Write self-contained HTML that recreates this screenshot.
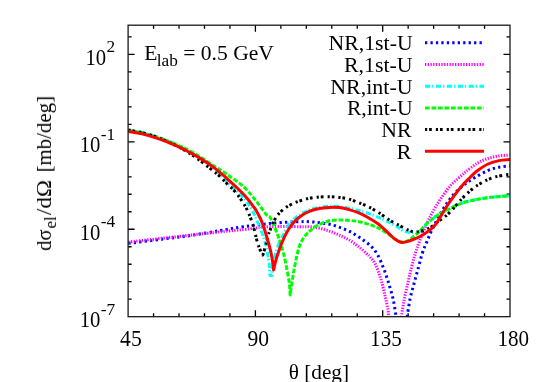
<!DOCTYPE html>
<html><head><meta charset="utf-8"><style>
html,body{margin:0;padding:0;background:#fff;}
svg{display:block;font-family:"Liberation Serif",serif;}
</style></head><body>
<svg width="545" height="382" viewBox="0 0 545 382">
<rect width="545" height="382" fill="#fff"/>
<defs><clipPath id="cp"><rect x="128.1" y="25.2" width="381.9" height="291.5"/></clipPath></defs>
<g stroke="#000" stroke-width="1.3" fill="none">
<path d="M153.56,316.70 v-3.5 M153.56,25.20 v3.5"/>
<path d="M179.02,316.70 v-3.5 M179.02,25.20 v3.5"/>
<path d="M204.48,316.70 v-3.5 M204.48,25.20 v3.5"/>
<path d="M229.94,316.70 v-3.5 M229.94,25.20 v3.5"/>
<path d="M255.40,316.70 v-6.5 M255.40,25.20 v6.5"/>
<path d="M280.86,316.70 v-3.5 M280.86,25.20 v3.5"/>
<path d="M306.32,316.70 v-3.5 M306.32,25.20 v3.5"/>
<path d="M331.78,316.70 v-3.5 M331.78,25.20 v3.5"/>
<path d="M357.24,316.70 v-3.5 M357.24,25.20 v3.5"/>
<path d="M382.70,316.70 v-6.5 M382.70,25.20 v6.5"/>
<path d="M408.16,316.70 v-3.5 M408.16,25.20 v3.5"/>
<path d="M433.62,316.70 v-3.5 M433.62,25.20 v3.5"/>
<path d="M459.08,316.70 v-3.5 M459.08,25.20 v3.5"/>
<path d="M484.54,316.70 v-3.5 M484.54,25.20 v3.5"/>
<path d="M128.10,299.21 h3.5 M510.00,299.21 h-3.5"/>
<path d="M128.10,281.72 h3.5 M510.00,281.72 h-3.5"/>
<path d="M128.10,264.23 h3.5 M510.00,264.23 h-3.5"/>
<path d="M128.10,246.74 h3.5 M510.00,246.74 h-3.5"/>
<path d="M128.10,229.25 h6.5 M510.00,229.25 h-6.5"/>
<path d="M128.10,211.76 h3.5 M510.00,211.76 h-3.5"/>
<path d="M128.10,194.27 h3.5 M510.00,194.27 h-3.5"/>
<path d="M128.10,176.78 h3.5 M510.00,176.78 h-3.5"/>
<path d="M128.10,159.29 h3.5 M510.00,159.29 h-3.5"/>
<path d="M128.10,141.80 h6.5 M510.00,141.80 h-6.5"/>
<path d="M128.10,124.31 h3.5 M510.00,124.31 h-3.5"/>
<path d="M128.10,106.82 h3.5 M510.00,106.82 h-3.5"/>
<path d="M128.10,89.33 h3.5 M510.00,89.33 h-3.5"/>
<path d="M128.10,71.84 h3.5 M510.00,71.84 h-3.5"/>
<path d="M128.10,54.35 h6.5 M510.00,54.35 h-6.5"/>
<path d="M128.10,36.86 h3.5 M510.00,36.86 h-3.5"/>
</g>
<g clip-path="url(#cp)">
<path d="M128.4,243.3 C133.7,242.7 149.8,240.7 160.0,239.4 C170.2,238.1 179.3,237.2 189.3,235.7 C199.3,234.2 210.9,232.1 220.0,230.6 C229.1,229.1 235.2,227.8 244.0,226.6 C252.8,225.4 263.7,224.0 273.0,223.2 C282.3,222.4 293.9,221.9 300.0,221.7 C306.1,221.4 306.5,221.5 309.8,221.7 C313.1,221.9 316.3,222.3 319.6,222.7 C322.9,223.1 326.2,223.6 329.5,224.3 C332.8,225.1 336.0,226.0 339.3,227.2 C342.6,228.3 345.8,229.5 349.1,231.2 C352.4,232.8 355.6,234.9 358.9,237.1 C362.2,239.3 365.8,241.6 368.8,244.3 C371.8,247.0 374.4,249.4 376.9,253.5 C379.4,257.6 381.6,263.3 383.7,268.6 C385.8,273.9 387.6,279.8 389.2,285.1 C390.8,290.4 392.2,294.9 393.4,300.2 C394.5,305.5 395.7,314.2 396.1,317.0 M407.1,317.0 C407.6,314.2 408.7,305.8 409.8,300.2 C410.9,294.6 412.6,289.0 414.0,283.7 C415.4,278.4 416.7,273.6 418.1,268.6 C419.5,263.6 420.8,257.8 422.2,253.5 C423.6,249.2 424.9,246.5 426.4,242.9 C427.9,239.3 429.3,235.6 431.0,231.9 C432.7,228.2 434.7,224.4 436.5,220.9 C438.3,217.4 440.2,213.9 442.0,210.8 C443.8,207.7 445.7,205.1 447.5,202.5 C449.3,199.9 450.9,197.6 453.0,195.2 C455.1,192.8 458.2,189.8 460.4,187.8 C462.6,185.8 463.6,184.9 466.0,183.2 C468.4,181.5 471.3,179.6 475.0,177.5 C478.7,175.4 484.0,172.2 488.0,170.5 C492.0,168.8 495.4,167.9 499.0,167.2 C502.6,166.4 508.0,166.2 509.8,166.0" fill="none" stroke="#0000ff" stroke-width="3" stroke-dasharray="2.3,3.15" stroke-linejoin="round"/>
<path d="M128.4,242.0 C133.7,241.4 144.7,240.2 160.0,238.5 C175.3,236.8 205.8,233.4 220.0,231.9 C234.2,230.4 236.7,230.3 245.0,229.4 C253.3,228.5 260.8,227.1 270.0,226.6 C279.2,226.1 293.4,226.7 300.0,226.7 C306.6,226.7 306.5,226.6 309.8,226.8 C313.1,227.1 316.3,227.5 319.6,228.2 C322.9,228.9 326.2,230.0 329.5,231.2 C332.8,232.3 336.0,233.6 339.3,235.1 C342.6,236.6 345.8,238.0 349.1,240.0 C352.4,242.0 355.9,244.6 358.9,246.9 C361.8,249.2 364.9,252.1 366.8,253.8 C368.7,255.5 368.6,255.2 370.0,257.0 C371.4,258.8 373.7,260.7 375.5,264.5 C377.3,268.3 379.4,274.3 381.0,279.6 C382.6,284.9 384.0,291.1 385.1,296.1 C386.2,301.1 387.3,306.3 387.9,309.8 C388.5,313.3 388.7,315.8 388.9,317.0 M401.4,317.0 C401.8,314.7 402.6,308.1 403.5,303.0 C404.4,297.9 405.8,292.1 407.1,286.4 C408.4,280.7 409.8,274.1 411.2,268.6 C412.6,263.1 413.8,258.2 415.3,253.5 C416.8,248.8 418.0,245.2 420.0,240.1 C422.0,235.0 425.2,227.4 427.3,222.7 C429.4,218.0 431.0,215.1 432.8,211.7 C434.6,208.3 436.5,205.4 438.3,202.5 C440.1,199.6 442.0,196.9 443.9,194.3 C445.8,191.7 447.5,189.1 449.4,186.9 C451.2,184.7 452.9,183.0 455.0,181.0 C457.1,179.0 460.4,176.6 462.2,175.0 C464.0,173.4 463.5,173.5 466.0,171.6 C468.5,169.7 473.3,165.6 477.0,163.4 C480.7,161.2 484.3,159.7 488.0,158.4 C491.7,157.2 495.4,156.5 499.0,155.9 C502.6,155.3 508.0,155.2 509.8,155.1" fill="none" stroke="#ff00ff" stroke-width="3" stroke-dasharray="1.3,1.43" stroke-linejoin="round"/>
<path d="M128.4,130.2 C130.7,130.6 136.9,131.2 142.0,132.4 C147.1,133.6 153.3,135.6 159.0,137.6 C164.7,139.6 170.3,141.9 176.0,144.6 C181.7,147.2 187.1,149.9 193.0,153.5 C198.9,157.1 206.0,161.2 211.7,166.0 C217.4,170.8 221.6,176.6 227.0,182.0 C232.4,187.4 239.8,193.4 244.0,198.2 C248.2,203.0 250.1,206.6 252.5,210.9 C254.9,215.2 256.2,218.8 258.3,223.9 C260.4,229.0 263.3,235.8 265.0,241.7 C266.7,247.6 267.8,254.7 268.6,259.4 C269.4,264.1 269.4,267.3 269.6,270.0 C269.8,272.7 269.9,274.7 270.0,275.6 L271.9,275.6 C272.1,273.3 272.3,267.1 273.4,262.0 C274.5,256.9 276.8,249.2 278.3,245.0 C279.8,240.8 280.6,240.1 282.5,236.5 C284.4,232.9 287.4,226.4 289.7,223.2 C292.0,220.0 294.0,219.0 296.2,217.3 C298.4,215.6 300.6,214.2 302.8,213.0 C305.0,211.8 307.1,210.8 309.3,210.0 C311.5,209.2 313.7,208.5 315.9,208.0 C318.1,207.5 320.1,207.2 322.4,206.9 C324.7,206.6 326.7,206.4 329.5,206.3 C332.3,206.2 336.0,206.3 339.3,206.6 C342.6,206.9 345.8,207.5 349.1,208.2 C352.4,208.8 355.6,209.6 358.9,210.5 C362.2,211.4 365.5,212.3 368.8,213.5 C372.1,214.7 375.3,216.0 378.6,217.4 C381.9,218.8 385.1,220.3 388.4,221.9 C391.7,223.5 395.8,225.7 398.2,227.2 C400.6,228.7 401.3,230.2 403.0,231.0 C404.7,231.8 406.7,232.1 408.5,232.3 C410.3,232.5 412.2,232.1 414.0,232.0 C415.8,231.9 417.3,233.0 419.5,231.5 C421.7,230.0 424.8,225.6 427.3,223.2 C429.8,220.8 432.2,219.0 434.7,217.2 C437.1,215.4 439.6,214.0 442.0,212.6 C444.4,211.2 446.9,210.1 449.4,208.9 C451.8,207.7 454.3,206.4 456.7,205.3 C459.1,204.2 461.6,203.3 464.0,202.5 C466.4,201.7 468.8,201.2 471.4,200.6 C474.0,200.0 476.3,199.4 479.6,198.9 C482.9,198.4 487.6,197.7 491.0,197.3 C494.4,196.9 496.9,196.8 500.0,196.5 C503.1,196.2 508.2,195.8 509.8,195.7" fill="none" stroke="#00ffff" stroke-width="3" stroke-dasharray="5.3,1.8,1.3,2.5" stroke-linejoin="round"/>
<path d="M128.4,130.6 C130.7,131.0 136.9,131.6 142.0,132.8 C147.1,134.0 153.3,135.9 159.0,137.8 C164.7,139.7 170.3,141.9 176.0,144.4 C181.7,146.9 186.5,148.9 193.0,152.6 C199.5,156.3 209.4,163.1 215.1,166.7 C220.8,170.3 222.2,171.0 227.0,174.4 C231.8,177.8 239.2,182.7 244.0,187.1 C248.8,191.5 252.2,196.2 255.9,200.7 C259.6,205.2 263.8,211.5 266.1,214.3 C268.5,217.1 268.7,215.4 270.0,217.3 C271.3,219.2 272.6,222.6 273.9,225.6 C275.2,228.6 276.8,232.6 277.9,235.6 C279.0,238.6 279.5,240.3 280.5,243.5 C281.5,246.7 282.8,250.5 283.9,255.0 C285.0,259.5 286.3,265.8 287.2,270.6 C288.1,275.4 288.9,279.8 289.4,283.9 C289.9,288.0 290.0,293.1 290.1,295.0  C290.4,292.8 291.4,286.1 292.1,281.7 C292.8,277.2 293.5,272.6 294.3,268.3 C295.1,264.0 295.9,259.8 296.8,256.0 C297.7,252.2 298.5,248.4 299.6,245.5 C300.7,242.6 301.9,240.5 303.3,238.3 C304.7,236.1 306.2,234.4 308.1,232.5 C310.0,230.6 312.2,228.7 314.6,227.1 C317.0,225.5 319.9,224.2 322.4,223.2 C324.9,222.1 326.7,221.3 329.5,220.8 C332.3,220.3 336.0,220.1 339.3,220.0 C342.6,219.9 345.8,220.1 349.1,220.4 C352.4,220.7 355.6,221.0 358.9,221.7 C362.2,222.3 365.5,223.2 368.8,224.3 C372.1,225.4 375.3,226.6 378.6,228.2 C381.9,229.8 385.8,232.4 388.4,234.1 C391.0,235.8 392.1,237.3 394.3,238.6 C396.5,239.9 399.3,241.7 401.6,242.0 C403.9,242.3 406.4,241.2 408.0,240.6 C409.6,240.0 410.0,239.3 411.2,238.5 C412.4,237.7 413.6,236.7 415.0,235.5 C416.4,234.3 417.4,233.6 419.5,231.5 C421.6,229.4 424.8,225.6 427.3,223.2 C429.8,220.8 432.2,219.0 434.7,217.2 C437.1,215.4 439.6,214.0 442.0,212.6 C444.4,211.2 446.9,210.1 449.4,208.9 C451.8,207.7 454.3,206.4 456.7,205.3 C459.1,204.2 461.6,203.3 464.0,202.5 C466.4,201.7 468.8,201.2 471.4,200.6 C474.0,200.0 476.3,199.4 479.6,198.9 C482.9,198.4 487.6,197.7 491.0,197.3 C494.4,196.9 496.9,196.8 500.0,196.5 C503.1,196.2 508.2,195.8 509.8,195.7" fill="none" stroke="#00ff00" stroke-width="3" stroke-dasharray="4.7,1.8" stroke-linejoin="round"/>
<path d="M128.4,130.0 C130.7,130.4 136.9,131.3 142.0,132.6 C147.1,133.9 153.3,135.8 159.0,138.0 C164.7,140.2 170.3,142.7 176.0,145.6 C181.7,148.5 187.3,151.7 193.0,155.5 C198.7,159.3 205.8,165.1 210.0,168.4 C214.2,171.7 215.7,172.6 218.5,175.2 C221.3,177.8 224.2,180.9 227.0,183.7 C229.8,186.5 232.7,188.8 235.5,192.2 C238.3,195.6 241.7,200.3 244.0,204.1 C246.3,207.9 247.8,211.0 249.4,215.0 C251.1,219.0 252.7,224.2 253.9,228.3 C255.1,232.4 255.7,236.1 256.6,239.4 C257.5,242.7 258.4,245.7 259.4,248.3 C260.4,250.9 262.2,253.9 262.8,255.0  C263.4,253.2 265.2,247.2 266.1,243.9 C267.0,240.6 267.7,237.2 268.3,235.0 C268.9,232.8 269.1,232.7 270.0,230.4 C270.9,228.1 272.4,224.0 273.9,221.2 C275.4,218.3 277.0,215.7 279.2,213.3 C281.4,210.9 284.2,208.7 287.0,206.8 C289.8,205.0 292.9,203.5 296.2,202.2 C299.5,200.9 303.2,199.7 306.7,198.9 C310.2,198.1 313.4,197.6 317.2,197.2 C321.0,196.8 325.8,196.7 329.5,196.7 C333.2,196.7 336.0,197.0 339.3,197.4 C342.6,197.8 345.8,198.2 349.1,199.1 C352.4,200.0 355.6,201.4 358.9,202.7 C362.2,204.0 365.5,205.4 368.8,207.0 C372.1,208.6 375.3,210.4 378.6,212.5 C381.9,214.6 385.2,217.4 388.4,219.4 C391.5,221.4 394.1,222.7 397.5,224.5 C400.9,226.3 405.5,228.8 408.5,230.1 C411.5,231.3 412.6,232.0 415.3,232.0 C418.1,232.0 422.2,231.0 425.0,230.1 C427.8,229.2 429.8,227.9 432.1,226.3 C434.5,224.8 436.8,222.6 439.1,220.8 C441.5,219.0 443.8,217.7 446.2,215.7 C448.6,213.7 450.9,211.1 453.3,208.6 C455.7,206.1 458.0,202.9 460.3,200.4 C462.6,197.9 465.0,195.5 467.4,193.3 C469.8,191.1 472.1,189.2 474.5,187.4 C476.9,185.6 479.2,184.1 481.6,182.7 C484.0,181.3 486.2,180.2 488.6,179.2 C491.0,178.2 492.9,177.5 495.7,176.8 C498.4,176.1 502.8,175.3 505.1,174.9 C507.5,174.5 509.0,174.6 509.8,174.5" fill="none" stroke="#000000" stroke-width="3" stroke-dasharray="2.2,1.9,2.7,4.05" stroke-linejoin="round"/>
<path d="M128.4,131.5 C130.7,131.9 136.9,132.5 142.0,133.7 C147.1,134.9 153.3,136.8 159.0,138.8 C164.7,140.8 170.3,143.1 176.0,145.6 C181.7,148.1 187.1,150.7 193.0,154.1 C198.9,157.5 206.0,161.8 211.7,165.9 C217.4,170.0 221.6,173.8 227.0,178.6 C232.4,183.4 239.5,190.0 244.0,194.8 C248.5,199.6 251.8,204.2 254.2,207.5 C256.6,210.8 257.1,212.2 258.3,214.5 C259.5,216.8 260.5,218.5 261.5,221.0 C262.5,223.5 263.2,225.3 264.5,229.5 C265.8,233.7 268.1,241.2 269.4,246.1 C270.7,251.0 271.5,255.0 272.2,259.0 C272.9,263.0 273.4,268.2 273.6,270.0  C274.0,268.2 274.9,263.6 276.1,259.4 C277.4,255.2 279.5,249.0 281.1,244.8 C282.7,240.6 284.1,237.5 285.7,234.3 C287.3,231.1 289.2,228.2 291.0,225.8 C292.8,223.4 294.2,221.8 296.2,219.9 C298.2,218.1 300.6,216.1 302.8,214.7 C305.0,213.3 307.1,212.3 309.3,211.4 C311.5,210.5 313.7,209.8 315.9,209.2 C318.1,208.6 320.1,208.4 322.4,208.1 C324.7,207.8 326.7,207.5 329.5,207.4 C332.3,207.3 336.0,207.2 339.3,207.6 C342.6,208.0 345.8,208.7 349.1,209.6 C352.4,210.5 355.6,211.5 358.9,212.9 C362.2,214.3 365.5,216.1 368.8,218.0 C372.1,219.9 375.3,221.8 378.6,224.3 C381.9,226.8 385.8,230.7 388.4,233.1 C391.0,235.5 392.1,237.0 394.3,238.6 C396.5,240.2 398.8,242.2 401.6,242.5 C404.4,242.8 408.1,241.3 411.2,240.3 C414.3,239.3 417.3,237.9 420.0,236.5 C422.7,235.1 424.9,233.7 427.3,231.9 C429.8,230.1 432.6,227.9 434.7,225.5 C436.8,223.1 438.4,220.1 440.2,217.2 C442.0,214.3 443.9,210.9 445.7,208.0 C447.5,205.1 449.4,202.4 451.2,199.8 C453.0,197.2 454.6,195.1 456.7,192.4 C458.8,189.7 461.8,186.1 464.0,183.6 C466.2,181.1 467.8,179.6 470.0,177.5 C472.2,175.4 474.0,173.2 477.0,171.0 C480.0,168.8 484.3,165.7 488.0,164.0 C491.7,162.3 495.4,161.3 499.0,160.6 C502.6,159.9 508.0,159.8 509.8,159.6" fill="none" stroke="#ff0000" stroke-width="3" stroke-linejoin="round"/>
</g>
<rect x="128.1" y="25.2" width="381.9" height="291.5" stroke="#1a1a1a" stroke-width="1.3" fill="none"/>
<g fill="#000" opacity="0.999">
<text transform="translate(106.20,64.8) scale(1,1.06)" text-anchor="end" font-size="21.6" textLength="20.7" lengthAdjust="spacingAndGlyphs">10</text><text x="115.25" y="52.1" text-anchor="end" font-size="17.3">2</text>
<text transform="translate(100.45,152.2) scale(1,1.06)" text-anchor="end" font-size="21.6" textLength="20.7" lengthAdjust="spacingAndGlyphs">10</text><text x="115.25" y="139.6" text-anchor="end" font-size="17.3">-1</text>
<text transform="translate(100.45,239.6) scale(1,1.06)" text-anchor="end" font-size="21.6" textLength="20.7" lengthAdjust="spacingAndGlyphs">10</text><text x="115.25" y="227.0" text-anchor="end" font-size="17.3">-4</text>
<text transform="translate(100.45,327.1) scale(1,1.06)" text-anchor="end" font-size="21.6" textLength="20.7" lengthAdjust="spacingAndGlyphs">10</text><text x="115.25" y="314.5" text-anchor="end" font-size="17.3">-7</text>

<text transform="translate(130.9,346.1) scale(1,1.06)" text-anchor="middle" font-size="21.6">45</text>
<text transform="translate(258.2,346.1) scale(1,1.06)" text-anchor="middle" font-size="21.6">90</text>
<text transform="translate(385.9,346.1) scale(1,1.06)" text-anchor="middle" font-size="21.6" textLength="31.6" lengthAdjust="spacingAndGlyphs">135</text>
<text transform="translate(513.2,346.1) scale(1,1.06)" text-anchor="middle" font-size="21.6" textLength="31.6" lengthAdjust="spacingAndGlyphs">180</text>

<text x="412.6" y="50.3" text-anchor="end" font-size="21.6" textLength="84.0" lengthAdjust="spacingAndGlyphs">NR,1st-U</text>
<path d="M425,42.8 H484" stroke="#0000ff" stroke-width="3" stroke-dasharray="2.3,3.15" fill="none"/>
<text x="412.6" y="72.0" text-anchor="end" font-size="21.6" textLength="68.6" lengthAdjust="spacingAndGlyphs">R,1st-U</text>
<path d="M425,64.5 H484" stroke="#ff00ff" stroke-width="3" stroke-dasharray="1.3,1.43" fill="none"/>
<text x="412.6" y="93.7" text-anchor="end" font-size="21.6" textLength="82.4" lengthAdjust="spacingAndGlyphs">NR,int-U</text>
<path d="M425,86.2 H484" stroke="#00ffff" stroke-width="3" stroke-dasharray="5.3,1.8,1.3,2.5" fill="none"/>
<text x="412.6" y="115.4" text-anchor="end" font-size="21.6" textLength="65.7" lengthAdjust="spacingAndGlyphs">R,int-U</text>
<path d="M425,107.9 H484" stroke="#00ff00" stroke-width="3" stroke-dasharray="4.7,1.8" fill="none"/>
<text x="411.5" y="137.1" text-anchor="end" font-size="21.6" textLength="30.2" lengthAdjust="spacingAndGlyphs">NR</text>
<path d="M425,129.6 H484" stroke="#000000" stroke-width="3" stroke-dasharray="2.2,1.9,2.7,4.05" fill="none"/>
<text x="411.5" y="158.8" text-anchor="end" font-size="21.6" textLength="15.0" lengthAdjust="spacingAndGlyphs">R</text>
<path d="M425,151.3 H484" stroke="#ff0000" stroke-width="3" fill="none"/>

<text x="144.3" y="59.9" font-size="21.6">E</text>
<text x="156.8" y="65.9" font-size="17.3">lab</text>
<text x="183.3" y="59.9" font-size="21.6" textLength="90.6" lengthAdjust="spacingAndGlyphs">= 0.5 GeV</text>
<text x="318.9" y="379.0" text-anchor="middle" font-size="21.6" textLength="60.4" lengthAdjust="spacingAndGlyphs">θ [deg]</text>
<g transform="translate(51,250.8) rotate(-90)" font-size="21.6">
<text x="0" y="0" textLength="21.3" lengthAdjust="spacingAndGlyphs">dσ</text>
<text x="22.2" y="5.3" font-size="17.3">el</text>
<text x="35.8" y="0" textLength="35" lengthAdjust="spacingAndGlyphs">/dΩ</text>
<text x="78.4" y="0" textLength="76.6" lengthAdjust="spacingAndGlyphs">[mb/deg]</text>
</g>
</g>
</svg>
</body></html>
